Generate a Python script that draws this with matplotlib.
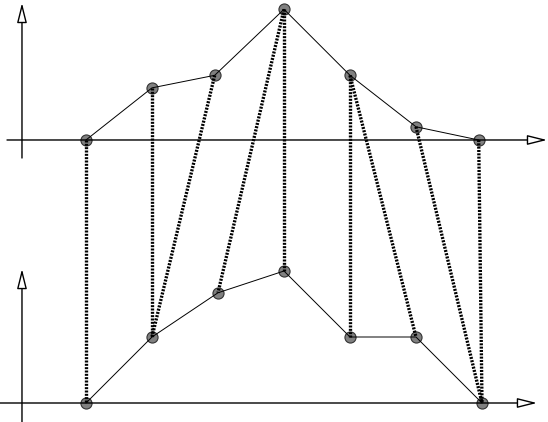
"""Two warped series with their point matches drawn as dotted links."""

import matplotlib

matplotlib.use("Agg")
import matplotlib.pyplot as plt

# values (one unit = one step along x)
top_x = [0, 1, 1.95, 3, 4, 5, 5.95]
top_y = [0, 0.79, 0.98, 1.98, 0.98, 0.2, 0]
bottom_x = [0, 1, 2, 3, 4, 5, 6]
bottom_y = [0, 1, 1.67, 2, 1, 1, 0]
# matched pairs (top index, bottom index)
links = [(0, 0), (1, 1), (2, 1), (3, 2), (3, 3), (4, 4), (4, 5), (5, 6), (6, 6)]

TOP_BASE = 3.985  # vertical offset of the upper series

fig = plt.figure(figsize=(5.48, 4.22), dpi=100)
ax = fig.add_axes([0, 0, 1, 1])
ax.set_xlim(-86 / 66, 462 / 66)
ax.set_ylim(-19 / 66, 403 / 66)
ax.axis("off")

arrow = dict(arrowstyle="-|>,head_length=0.8,head_width=0.2", mutation_scale=15,
             fc="white", ec="black", lw=1, shrinkA=0, shrinkB=0)

# axes with open arrow heads
ax.annotate("", xy=(6.985, TOP_BASE), xytext=(-1.197, TOP_BASE), arrowprops=arrow)
ax.annotate("", xy=(-0.97, TOP_BASE + 2.076), xytext=(-0.97, TOP_BASE - 0.273), arrowprops=arrow)
ax.annotate("", xy=(6.833, 0), xytext=(-1.31, 0), arrowprops=arrow)
ax.annotate("", xy=(-0.97, 2.03), xytext=(-0.97, -0.3), arrowprops=arrow)

top_shift = [y + TOP_BASE for y in top_y]

for xs, ys in ((top_x, top_shift), (bottom_x, bottom_y)):
    ax.plot(xs, ys, color="black", lw=0.7, zorder=3)
    ax.plot(xs, ys, ls="none", marker="o", ms=8, mfc="#808080", mec="#333333",
            mew=0.8, zorder=2)

for i, j in links:
    ax.plot([top_x[i], bottom_x[j]], [top_shift[i], bottom_y[j]], color="black",
            lw=2.4, ls=(0, (0.6, 0.4)), zorder=4)

fig.savefig("out.png", dpi=100)
